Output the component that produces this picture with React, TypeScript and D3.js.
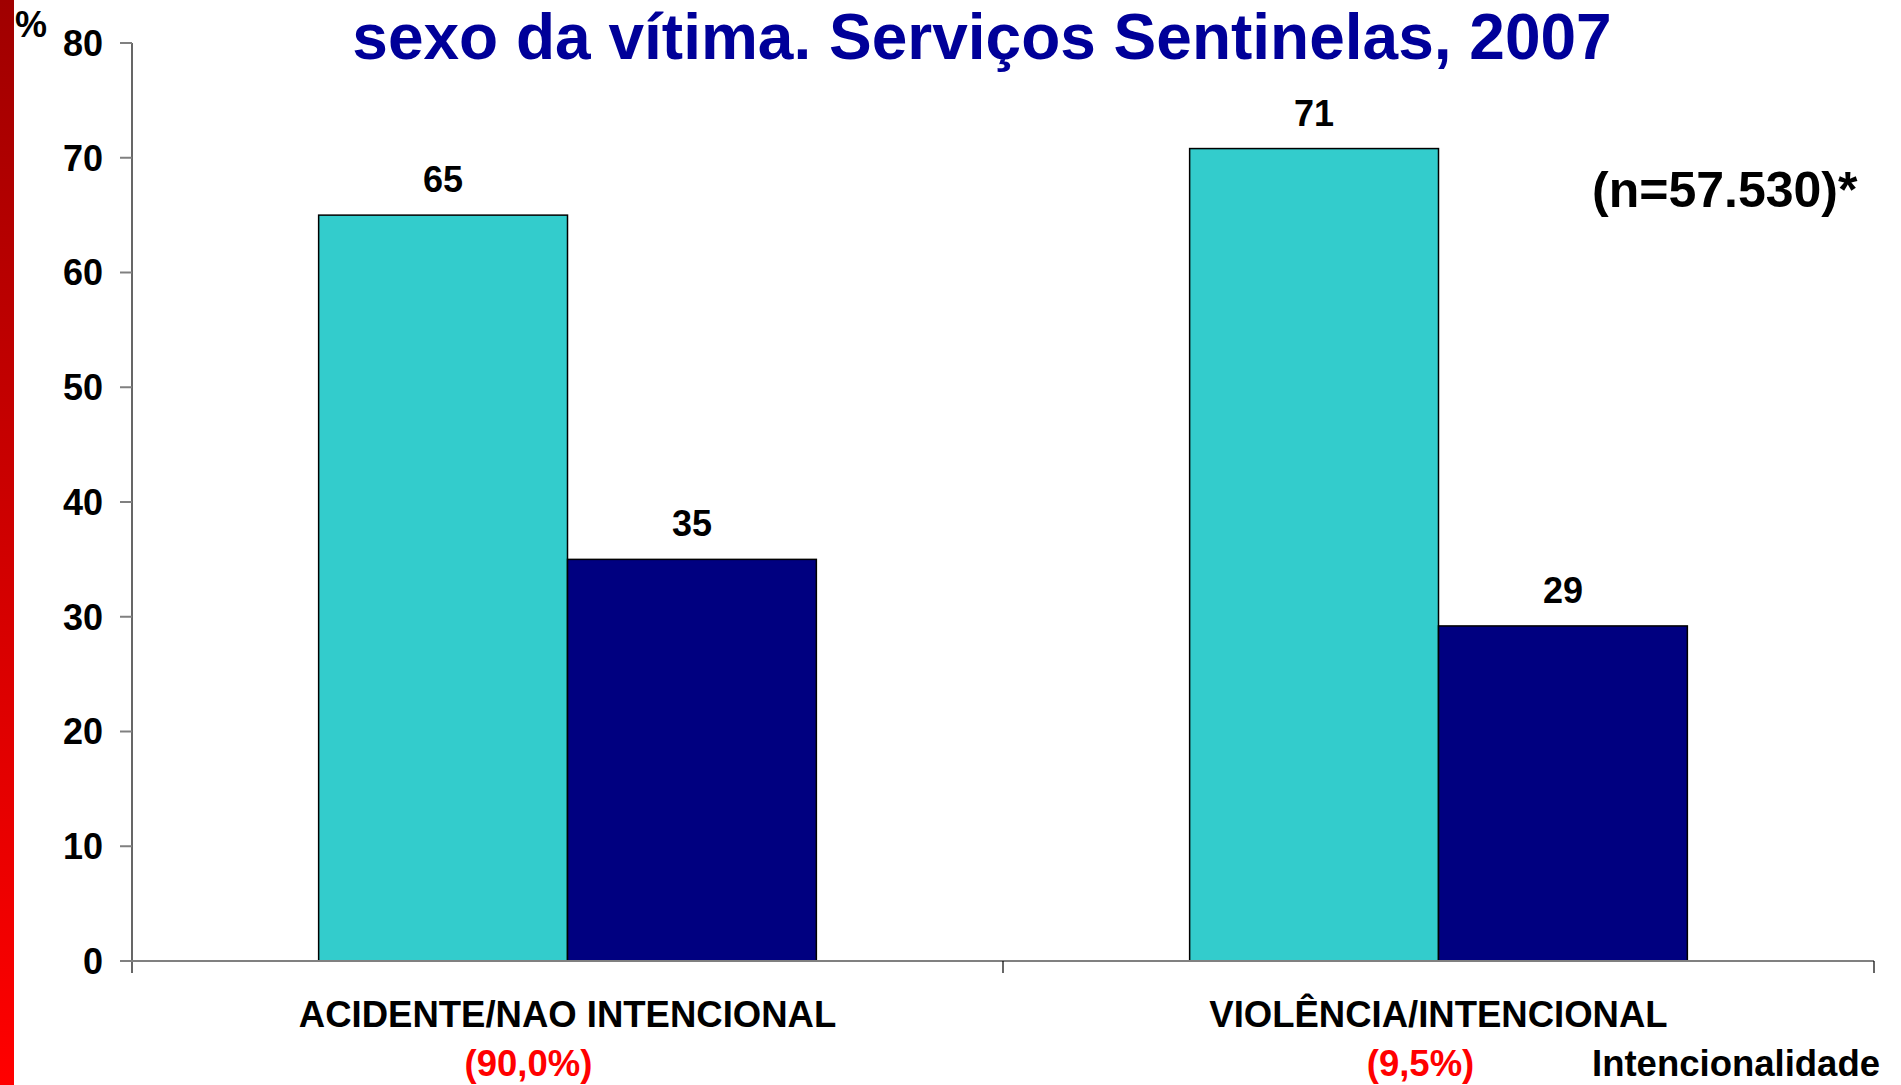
import React from "react";
import * as d3 from "d3";

const categories = ["ACIDENTE/NAO INTENCIONAL", "VIOLÊNCIA/INTENCIONAL"];
const categoryShares = ["(90,0%)", "(9,5%)"];
const series = ["Masculino", "Feminino"];
const masculino = [65, 70.8];
const feminino = [35, 29.2];
const yTicks = [0, 10, 20, 30, 40, 50, 60, 70, 80];
const titleText = "sexo da vítima. Serviços Sentinelas, 2007";
const nText = "(n=57.530)*";
const axisTitle = "Intencionalidade";

const W = 1901;
const H = 1085;
const FONT = "'Liberation Sans', Arial, Helvetica, sans-serif";
const colors = ["#33CCCC", "#000080"];

export default function App() {
  const left = 132;
  const right = 1874;
  const y = d3.scaleLinear().domain([0, 80]).range([961, 43]);
  const x0 = d3.scaleBand<string>().domain(categories).range([left, right]).paddingInner(0).paddingOuter(0);
  const x1 = d3
    .scaleBand<string>()
    .domain(series)
    .range([0, x0.bandwidth()])
    .paddingInner(0)
    .paddingOuter(0.75);
  const values = [masculino, feminino];
  const shareOffsets = [-39, -18];
  const fmt = d3.format(".0f");

  return (
    <svg
      width={W}
      height={H}
      viewBox={`0 0 ${W} ${H}`}
      style={{ position: "absolute", left: 0, top: 0, background: "#fff" }}
    >
      <defs>
        <linearGradient id="redbar" x1="0" y1="0" x2="0" y2="1">
          <stop offset="0%" stopColor="#A00000" />
          <stop offset="100%" stopColor="#FF0000" />
        </linearGradient>
      </defs>
      <rect x={0} y={0} width={W} height={H} fill="#fff" />
      <rect x={0} y={0} width={14} height={H} fill="url(#redbar)" />

      {/* title */}
      <text
        x={982}
        y={59}
        textAnchor="middle"
        fontFamily={FONT}
        fontWeight="bold"
        fontSize={64}
        fill="#000099"
      >
        {titleText}
      </text>

      {/* % label */}
      <text x={15} y={37} fontFamily={FONT} fontWeight="bold" fontSize={36} fill="#000">
        %
      </text>

      {/* bars */}
      {categories.map((c, ci) => (
        <g key={c} transform={`translate(${x0(c)},0)`}>
          {series.map((s, si) => {
            const v = values[si][ci];
            const bx = x1(s) as number;
            return (
              <g key={s}>
                <rect
                  x={bx}
                  y={y(v)}
                  width={x1.bandwidth()}
                  height={y(0) - y(v)}
                  fill={colors[si]}
                  stroke="#000"
                  strokeWidth={1.5}
                />
                <text
                  x={bx + x1.bandwidth() / 2}
                  y={y(v) - 23}
                  textAnchor="middle"
                  fontFamily={FONT}
                  fontWeight="bold"
                  fontSize={36}
                  fill="#000"
                >
                  {fmt(v)}
                </text>
              </g>
            );
          })}
        </g>
      ))}

      {/* y axis */}
      <line x1={left} x2={left} y1={y(80)} y2={973} stroke="#000" strokeWidth={1.2} />
      {yTicks.map((t) => (
        <g key={t}>
          <line x1={120} x2={left} y1={y(t)} y2={y(t)} stroke="#808080" strokeWidth={2} />
          <text
            x={103}
            y={y(t)}
            dy="0.36em"
            textAnchor="end"
            fontFamily={FONT}
            fontWeight="bold"
            fontSize={36}
            fill="#000"
          >
            {t}
          </text>
        </g>
      ))}

      {/* x axis */}
      <line x1={120} x2={right} y1={y(0)} y2={y(0)} stroke="#808080" strokeWidth={2} />
      {categories.map((c, ci) => (
        <line
          key={"tk" + ci}
          x1={(x0(c) as number) + x0.bandwidth()}
          x2={(x0(c) as number) + x0.bandwidth()}
          y1={y(0)}
          y2={973}
          stroke="#000"
          strokeWidth={1.2}
        />
      ))}
      {categories.map((c, ci) => {
        const cx = (x0(c) as number) + x0.bandwidth() / 2;
        return (
          <g key={"lb" + ci}>
            <text
              x={cx}
              y={1027}
              textAnchor="middle"
              fontFamily={FONT}
              fontWeight="bold"
              fontSize={36.5}
              fill="#000"
            >
              {c}
            </text>
            <text
              x={cx + shareOffsets[ci]}
              y={1076}
              textAnchor="middle"
              fontFamily={FONT}
              fontWeight="bold"
              fontSize={36.5}
              fill="#FF0000"
            >
              {categoryShares[ci]}
            </text>
          </g>
        );
      })}

      <text x={1592} y={1076} fontFamily={FONT} fontWeight="bold" fontSize={36.5} fill="#000">
        {axisTitle}
      </text>

      <text x={1592} y={207} fontFamily={FONT} fontWeight="bold" fontSize={50} fill="#000">
        {nText}
      </text>
    </svg>
  );
}
